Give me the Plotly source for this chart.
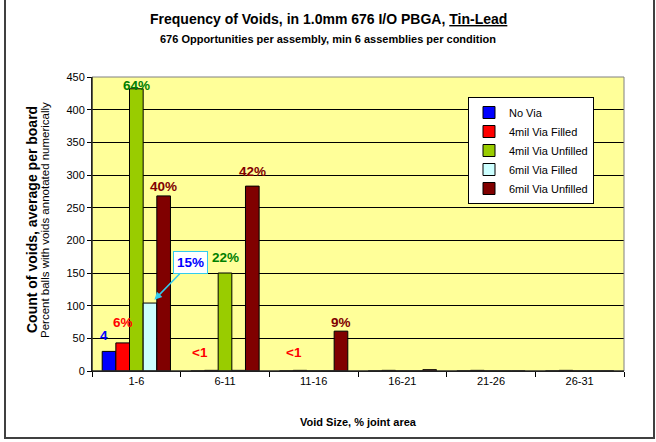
import plotly.graph_objects as go

categories = ["1-6", "6-11", "11-16", "16-21", "21-26", "26-31"]
series_names = ["No Via", "4mil Via Filled", "4mil Via Unfilled", "6mil Via Filled", "6mil Via Unfilled"]
no_via = [30, 0, 0, 0, 0, 0]
via4_filled = [43, 1, 1, 1, 1, 1]
via4_unfilled = [432, 150, 0, 0, 0, 0]
via6_filled = [104, 1, 0, 0, 0, 0]
via6_unfilled = [268, 283, 61, 2, 0, 0]
series_values = [no_via, via4_filled, via4_unfilled, via6_filled, via6_unfilled]
colors = ["#0000FF", "#FF0000", "#99CC00", "#CCFFFF", "#800000"]

# (text, category index, series index, label y value, pixel x shift, colour)
pct_labels = [
    ("4", 0, 0, 54, -5, "#0000FF"),
    ("6%", 0, 1, 75, 0, "#FF0000"),
    ("64%", 0, 2, 437, 0, "#008000"),
    ("40%", 0, 4, 283, 0, "#800000"),
    ("<1", 1, 1, 29, -11, "#FF0000"),
    ("22%", 1, 2, 173, 0, "#008000"),
    ("42%", 1, 4, 306, 0, "#800000"),
    ("<1", 2, 1, 29, -6, "#FF0000"),
    ("9%", 2, 4, 75, 0, "#800000"),
]

FONT = "Arial, Liberation Sans, sans-serif"
group_frac = 0.77
bar_w = group_frac / len(series_names)

fig = go.Figure()
for name, vals, col in zip(series_names, series_values, colors):
    fig.add_trace(go.Bar(
        name=name, x=categories, y=vals,
        marker=dict(color=col, line=dict(color="#000000", width=1)),
    ))

annotations = []
for text, ci, si, yv, dx, col in pct_labels:
    annotations.append(dict(
        x=ci + (si - 2) * bar_w, y=yv, xref="x", yref="y", text="<b>%s</b>" % text,
        showarrow=False, font=dict(family=FONT, size=13.5, color=col),
        xanchor="center", yanchor="middle", xshift=dx,
    ))
# 15% callout with arrow to 6mil Via Filled bar
annotations.append(dict(
    x=0 + (3 - 2) * bar_w + 0.05, y=109, xref="x", yref="y",
    text="<b>15%</b>", showarrow=True, arrowhead=2, arrowsize=1, arrowwidth=1.5,
    arrowcolor="#33CCEE", ax=36, ay=-37,
    font=dict(family=FONT, size=13.5, color="#0000FF"),
    bgcolor="#FFFFFF", bordercolor="#33CCEE", borderwidth=1, borderpad=3,
))
annotations += [
    dict(x=(328 - 92) / 532, y=(371 - 19) / 294, xref="paper", yref="paper",
         text="<b>Frequency of Voids, in 1.0mm 676 I/O PBGA, <u>Tin-Lead</u></b>",
         showarrow=False, font=dict(family=FONT, size=14, color="#000000"),
         xanchor="center", yanchor="middle"),
    dict(x=(328 - 92) / 532, y=(371 - 39) / 294, xref="paper", yref="paper",
         text="<b>676 Opportunities per assembly, min 6 assemblies per condition</b>",
         showarrow=False, font=dict(family=FONT, size=11, color="#000000"),
         xanchor="center", yanchor="middle"),
    dict(x=(358 - 92) / 532, y=(371 - 422) / 294, xref="paper", yref="paper",
         text="<b>Void Size, % joint area</b>",
         showarrow=False, font=dict(family=FONT, size=11, color="#000000"),
         xanchor="center", yanchor="middle"),
    dict(x=(32 - 92) / 532, y=(371 - 220) / 294, xref="paper", yref="paper",
         text="<b>Count of voids, average per board</b>", textangle=-90,
         showarrow=False, font=dict(family=FONT, size=14, color="#000000"),
         xanchor="center", yanchor="middle"),
    dict(x=(45 - 92) / 532, y=(371 - 220) / 294, xref="paper", yref="paper",
         text="Percent balls with voids annotated numerically", textangle=-90,
         showarrow=False, font=dict(family=FONT, size=11.5, color="#000000"),
         xanchor="center", yanchor="middle"),
]

fig.update_layout(
    width=656, height=442,
    margin=dict(l=92, r=32, t=77, b=71),
    paper_bgcolor="#FFFFFF", plot_bgcolor="#FFFF99",
    barmode="group", bargap=1 - group_frac, bargroupgap=0,
    font=dict(family=FONT, size=11, color="#000000"),
    showlegend=True,
    legend=dict(
        x=(468 - 92) / 532, y=(371 - 97) / 294, xanchor="left", yanchor="top",
        bgcolor="#FFFFFF", bordercolor="#000000", borderwidth=1,
        font=dict(family=FONT, size=11, color="#000000"),
        itemwidth=30, tracegroupgap=0,
    ),
    annotations=annotations,
    xaxis=dict(
        type="category", showline=True, linecolor="#000000", linewidth=1,
        ticks="outside", tickson="boundaries", ticklen=5, tickcolor="#000000",
        showgrid=False, tickfont=dict(family=FONT, size=11),
    ),
    yaxis=dict(
        range=[0, 450], dtick=50, showline=True, linecolor="#000000", linewidth=1,
        ticks="outside", ticklen=4, tickcolor="#000000",
        showgrid=True, gridcolor="#000000", gridwidth=1, zeroline=False,
        tickfont=dict(family=FONT, size=11),
    ),
    shapes=[
        dict(type="rect", xref="paper", yref="paper", x0=0, x1=1, y0=0, y1=1,
             line=dict(color="#808080", width=1), fillcolor="rgba(0,0,0,0)", layer="above"),
        dict(type="line", xref="paper", yref="paper", x0=0, x1=0, y0=0, y1=1,
             line=dict(color="#000000", width=1), layer="above"),
        dict(type="line", xref="paper", yref="paper", x0=0, x1=1, y0=0, y1=0,
             line=dict(color="#000000", width=1), layer="above"),
        dict(type="rect", xref="paper", yref="paper",
             x0=(5 - 92) / 532, x1=(654 - 92) / 532,
             y0=(371 - 438) / 294, y1=(371 + 5) / 294,
             line=dict(color="#404040", width=2), fillcolor="rgba(0,0,0,0)"),
    ],
)

fig.write_html("out.html", config={"displayModeBar": False},
               post_script="document.body.style.margin='0';")
